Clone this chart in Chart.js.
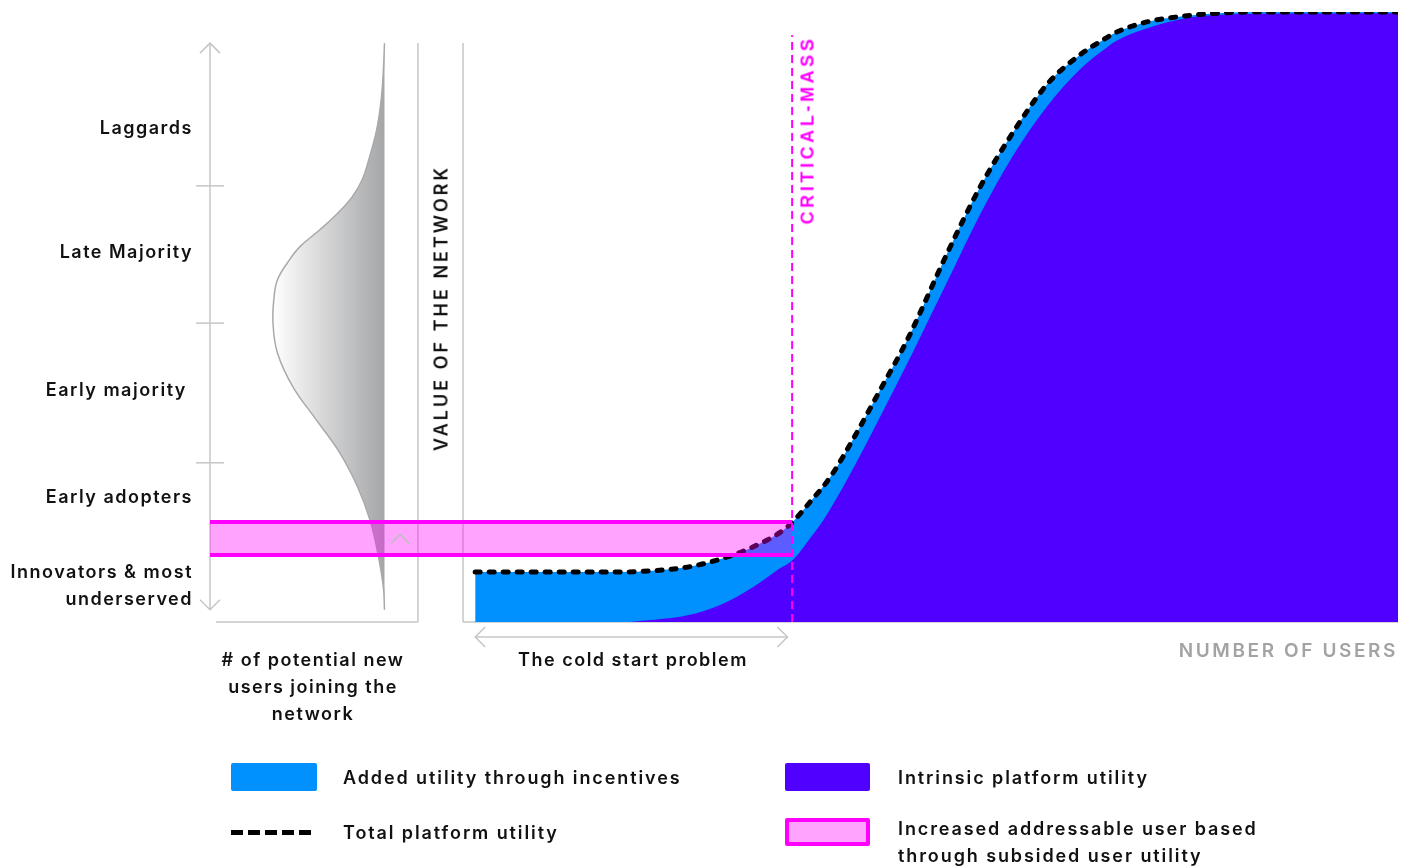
<!DOCTYPE html>
<html>
<head>
<meta charset="utf-8">
<title>Value of the network vs number of users</title>
<script src="https://cdn.jsdelivr.net/npm/chart.js@4.4.1/dist/chart.umd.min.js"></script>
<style>
  body { margin: 0; background: #fff; }
  #wrap { position: relative; width: 1414px; height: 868px; overflow: hidden;
          font-family: Inter, "Noto Sans", sans-serif; color: #111; }
  #wrap canvas { position: absolute; left: 0; top: 0; }
  .lbl { position: absolute; font-size: 18px; font-weight: 600; letter-spacing: 1.5px;
         white-space: pre; line-height: 27px; transform: translateY(-50%); }
  .leg { letter-spacing: 1.9px; }
  .seg { text-align: right; }
  .center { text-align: center; transform: translate(-50%, -50%); }
  .rot { position: absolute; white-space: nowrap; transform: translate(-50%, -50%) rotate(-90deg); }
  .sw { position: absolute; box-sizing: border-box; border-radius: 2px; }
</style>
</head>
<body>
<div id="wrap">
  <canvas id="chart" width="1414" height="868"></canvas>

  <div class="rot" style="left:441px;top:308px;font-size:18px;font-weight:600;letter-spacing:3px;">VALUE OF THE NETWORK</div>
  <div class="rot" style="left:808px;top:130px;font-family:'Liberation Sans',Arial,sans-serif;font-size:18px;font-weight:700;letter-spacing:3.6px;color:#ff00ff;">CRITICAL-MASS</div>
  <div class="lbl" style="right:16px;top:650px;font-size:19px;font-weight:600;letter-spacing:2.6px;color:#a3a3a3;">NUMBER OF USERS</div>
  <div class="lbl center" style="left:633px;top:659px;">The cold start problem</div>
  <div class="lbl center" style="left:313px;top:686px;"># of potential new
users joining the
network</div>

  <!-- legend -->
  <div class="sw" style="left:231px;top:763px;width:86px;height:28px;background:#0091ff;"></div>
  <div class="lbl leg" style="left:343px;top:777px;">Added utility through incentives</div>
  <div class="sw" style="left:785px;top:763px;width:85px;height:28px;background:#5000ff;"></div>
  <div class="lbl leg" style="left:898px;top:777px;">Intrinsic platform utility</div>
  <div class="sw" style="left:231px;top:830px;width:80px;height:5px;border-radius:0;background:repeating-linear-gradient(90deg,#000 0 12px,transparent 12px 17px);"></div>
  <div class="lbl leg" style="left:343px;top:832px;">Total platform utility</div>
  <div class="sw" style="left:785px;top:818px;width:85px;height:28px;background:#ffa3ff;border:4px solid #ff00ff;"></div>
  <div class="lbl leg" style="left:898px;top:842px;">Increased addressable user based
through subsided user utility</div>
</div>

<script>
// ---- data ----
// main chart: number of users (0-100) vs value of the network (0-100)
const totalUsers = [1.3, 16.8, 20.3, 24.0, 27.5, 31.0, 34.7, 37.3, 39.3, 42.1, 44.6, 47.5, 51.8, 55.3, 58.8, 62.5, 66.0, 68.1, 69.9, 73.5, 77.0, 80.6, 85.2, 100];
const totalUtility = [8.2, 8.2, 8.4, 9.0, 10.3, 12.3, 15.6, 20.0, 23.8, 31.0, 38.0, 46.2, 60.5, 71.3, 80.2, 88.2, 93.0, 95.1, 96.7, 98.5, 99.3, 99.8, 100, 100];
const intrinsicUsers = [17.9, 24.0, 27.5, 31.0, 33.6, 35.3, 37.4, 38.5, 41.1, 44.6, 48.1, 51.8, 55.3, 58.8, 62.5, 66.0, 68.1, 69.9, 73.5, 77.0, 80.6, 85.2, 100];
const intrinsicUtility = [0, 1.1, 2.8, 5.7, 8.5, 10.2, 14.3, 16.6, 23.4, 33.6, 44.2, 55.8, 66.8, 76.4, 84.6, 90.6, 93.3, 95.3, 97.5, 98.9, 99.5, 99.7, 99.8];
const criticalMass = 35.2;
const criticalMassTop = 96.2;
const bandLow = 11.0, bandHigh = 16.4;   // increased addressable users

// left panel: adoption position (same vertical axis) vs # of new users joining
const adoptionLevel = [94.9, 90.5, 85.6, 80.7, 75.2, 72.5, 69.7, 67.0, 64.3, 61.5, 58.9, 56.1, 53.3, 49.0, 44.1, 38.5, 33.1, 27.7, 22.1, 16.7, 11.3, 5.7, 2.0];
const newUsers = [0.0, 0.01, 0.03, 0.07, 0.15, 0.20, 0.29, 0.42, 0.58, 0.76, 0.87, 0.96, 0.99, 1.00, 0.96, 0.82, 0.61, 0.40, 0.24, 0.13, 0.06, 0.01, 0.0];
const segmentNames = ['Laggards', 'Late Majority', 'Early majority\u00a0', 'Early adopters', 'Innovators & most\nunderserved'];
const segmentLabelAt = [81.1, 60.8, 38.2, 20.7, 6.1];
const segmentBounds = [71.5, 49.0, 26.1];

const BLUE = '#0091ff', PURPLE = '#5000ff', MAGENTA = '#ff00ff', GREY = '#c6c6c6';

const pts = (xs, ys) => xs.map((v, i) => ({ x: v, y: ys[i] }));

// Draw axes, arrows and ticks that are not chart datasets
function arrowHead(ctx, x, y, dir, size) {
    ctx.beginPath();
    if (dir === 'up' || dir === 'down') {
        const s = dir === 'up' ? 1 : -1;
        ctx.moveTo(x - size, y + s * size);
        ctx.lineTo(x, y);
        ctx.lineTo(x + size, y + s * size);
    } else {
        const s = dir === 'left' ? 1 : -1;
        ctx.moveTo(x + s * size, y - size);
        ctx.lineTo(x, y);
        ctx.lineTo(x + s * size, y + size);
    }
    ctx.stroke();
}

const decor = {
    id: 'decor',
    beforeDatasetsDraw(chart) {
        const { ctx, chartArea: a, scales: { x, y, xd } } = chart;
        const line = (x1, y1, x2, y2) => { ctx.beginPath(); ctx.moveTo(x1, y1); ctx.lineTo(x2, y2); ctx.stroke(); };
        ctx.save();
        ctx.strokeStyle = GREY;
        ctx.lineWidth = 1.5;

        // adoption axis with arrows and segment ticks
        const top = y.getPixelForValue(94.9);
        const ax = a.left;
        line(ax, top, ax, y.getPixelForValue(2.0));
        arrowHead(ctx, ax, top, 'up', 10);
        arrowHead(ctx, ax, y.getPixelForValue(2.0), 'down', 10);
        segmentBounds.forEach(v => {
            const py = y.getPixelForValue(v);
            line(ax - 14, py, ax + 14, py);
        });

        // left panel frame
        const edge = xd.getPixelForValue(-0.30);
        line(edge, top, edge, a.bottom);
        line(xd.getPixelForValue(1.511), a.bottom, edge, a.bottom);

        // main axes
        const x0 = x.getPixelForValue(0);
        line(x0, top, x0, a.bottom);
        line(x0, a.bottom, x.getPixelForValue(100), a.bottom);
        ctx.restore();
    },
    afterDatasetsDraw(chart) {
        const { ctx, chartArea: a, scales: { x, y, xd } } = chart;
        ctx.save();
        ctx.strokeStyle = GREY;
        ctx.lineWidth = 1.5;
        // cold start arrow
        const x1 = x.getPixelForValue(totalUsers[0]);
        const x2 = x.getPixelForValue(34.7);
        const ay = a.bottom + 15;
        ctx.beginPath(); ctx.moveTo(x1, ay); ctx.lineTo(x2, ay); ctx.stroke();
        arrowHead(ctx, x1, ay, 'left', 10);
        arrowHead(ctx, x2, ay, 'right', 10);
        // small chevron inside the band
        ctx.strokeStyle = '#bdbdbd';
        arrowHead(ctx, xd.getPixelForValue(-0.14), y.getPixelForValue((bandLow + bandHigh) / 2) - 4, 'up', 9);
        ctx.restore();
    }
};

const X_MIN = -27.06, X_MAX = 100;

const chart = new Chart(document.getElementById('chart'), {
    type: 'line',
    data: {
        datasets: [
            {
                label: 'Critical mass',
                data: pts([criticalMass, criticalMass], [0, criticalMassTop]),
                borderColor: MAGENTA, borderWidth: 2, borderDash: [8, 5],
                fill: false, order: 0
            },
            {
                label: 'band top',
                data: pts([X_MIN, criticalMass], [bandHigh, bandHigh]),
                borderColor: MAGENTA, borderWidth: 4, fill: false, order: 1
            },
            {
                label: 'Increased addressable user based through subsided user utility',
                data: pts([X_MIN, criticalMass], [bandLow, bandLow]),
                borderColor: MAGENTA, borderWidth: 4,
                backgroundColor: 'rgba(255, 0, 255, 0.36)', fill: '-1', order: 1
            },
            {
                label: 'Total platform utility',
                data: pts(totalUsers, totalUtility),
                borderColor: '#000', borderWidth: 5, borderDash: [5, 9], borderCapStyle: 'round',
                cubicInterpolationMode: 'monotone', fill: false, order: 2
            },
            {
                label: 'Intrinsic platform utility',
                data: pts(intrinsicUsers, intrinsicUtility),
                borderWidth: 0, borderColor: 'transparent', backgroundColor: PURPLE,
                cubicInterpolationMode: 'monotone', fill: 'origin', order: 3
            },
            {
                label: 'Added utility through incentives',
                data: pts(totalUsers, totalUtility),
                borderWidth: 0, borderColor: 'transparent', backgroundColor: BLUE,
                cubicInterpolationMode: 'monotone', fill: 'origin', order: 4
            },
            {
                label: '# of potential new users joining the network',
                xAxisID: 'xd',
                data: pts(newUsers, adoptionLevel),
                borderColor: '#a9a9a9', borderWidth: 1.5, tension: 0.4,
                backgroundColor(c) {
                    const ch = c.chart;
                    if (!ch.chartArea) return '#ccc';
                    const s = ch.scales.xd;
                    const g = ch.ctx.createLinearGradient(s.getPixelForValue(1), 0, s.getPixelForValue(0), 0);
                    g.addColorStop(0, '#ffffff');
                    g.addColorStop(1, '#a5a6a8');
                    return g;
                },
                fill: 'shape', order: 5
            }
        ]
    },
    options: {
        responsive: false,
        animation: false,
        layout: { padding: { left: 210, right: 16, top: 12, bottom: 246 } },
        elements: { point: { radius: 0, hoverRadius: 0 } },
        plugins: { legend: { display: false }, tooltip: { enabled: false } },
        scales: {
            x: { type: 'linear', min: X_MIN, max: X_MAX, display: false },
            xd: { type: 'linear', min: -9.09, max: 1.565, reverse: true, display: false },
            y: { type: 'linear', min: 0, max: 100, display: false }
        }
    },
    plugins: [decor]
});

// adopter segment labels, placed on the chart's vertical scale
const wrap = document.getElementById('wrap');
segmentNames.forEach((name, i) => {
    const d = document.createElement('div');
    d.className = 'lbl seg';
    d.textContent = name;
    d.style.right = (1414 - 193) + 'px';
    d.style.top = chart.scales.y.getPixelForValue(segmentLabelAt[i]) + 'px';
    wrap.appendChild(d);
});
</script>
</body>
</html>
